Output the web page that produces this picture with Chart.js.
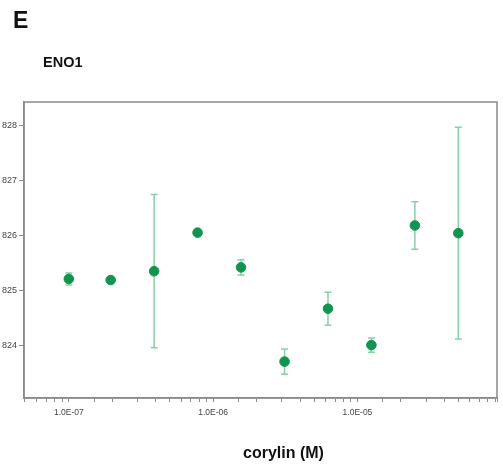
<!DOCTYPE html>
<html>
<head>
<meta charset="utf-8">
<script src="https://cdn.jsdelivr.net/npm/chart.js@4.4.1/dist/chart.umd.min.js"></script>
<style>
  html, body { margin: 0; padding: 0; background: #fff; }
  #wrap { position: relative; width: 503px; height: 468px; overflow: hidden; }
  canvas { position: absolute; left: 0; top: 0; }
  .panel { position: absolute; left: 13px; top: 7px; font: bold 23px "Liberation Sans", Arial, sans-serif; color: #111; }
  .gene { position: absolute; left: 43px; top: 54px; font: bold 14.5px "Liberation Sans", Arial, sans-serif; color: #111; }
  .xtitle { position: absolute; left: 243px; top: 444px; font: bold 16px "Liberation Sans", Arial, sans-serif; color: #111; white-space: nowrap; }
</style>
</head>
<body>
<div id="wrap">
  <canvas id="c" width="503" height="468"></canvas>
  <div class="panel">E</div>
  <div class="gene">ENO1</div>
  <div class="xtitle">corylin (M)</div>
</div>
<script>
// corylin concentrations (M), two-fold dilution series
const concentrations = [1e-7, 1.95e-7, 3.9e-7, 7.8e-7, 1.56e-6, 3.125e-6, 6.25e-6, 1.25e-5, 2.5e-5, 5e-5];
// ENO1 readout (mean) and error (± half range)
const means  = [825.21, 825.19, 825.35, 826.05, 825.42, 823.71, 824.67, 824.01, 826.18, 826.04];
const errors = [0.11, 0.03, 1.39, 0.03, 0.14, 0.23, 0.30, 0.13, 0.43, 1.92];
// labelled y ticks
const yTicks = [824, 825, 826, 827, 828];
const xMajor = [1e-7, 1e-6, 1e-5];

const points = concentrations.map((x, i) => ({ x: x, y: means[i], e: errors[i] }));

const axisGrey = '#8a8a8a';

// error bars with caps, drawn beneath the markers
const errorBars = {
  id: 'errorBars',
  beforeDatasetsDraw(chart) {
    const ctx = chart.ctx;
    const xs = chart.scales.x, ys = chart.scales.y;
    ctx.save();
    ctx.strokeStyle = '#86d0a6';
    ctx.lineWidth = 1.5;
    points.forEach(p => {
      if (p.e <= 0.05) return;
      const px = xs.getPixelForValue(p.x);
      const top = ys.getPixelForValue(p.y + p.e);
      const bot = ys.getPixelForValue(p.y - p.e);
      ctx.beginPath();
      ctx.moveTo(px, top); ctx.lineTo(px, bot);
      ctx.moveTo(px - 3.5, top); ctx.lineTo(px + 3.5, top);
      ctx.moveTo(px - 3.5, bot); ctx.lineTo(px + 3.5, bot);
      ctx.stroke();
    });
    ctx.restore();
  }
};

// closed frame around the plotting area
const frame = {
  id: 'frame',
  afterDraw(chart) {
    const a = chart.chartArea, ctx = chart.ctx;
    ctx.save();
    ctx.strokeStyle = axisGrey;
    ctx.lineWidth = 1.5;
    ctx.strokeRect(a.left, a.top, a.right - a.left, a.bottom - a.top);
    ctx.restore();
  }
};

const isMajor = v => xMajor.some(m => Math.abs(v / m - 1) < 1e-6);

new Chart(document.getElementById('c'), {
  type: 'scatter',
  data: {
    datasets: [{
      data: points,
      backgroundColor: '#11944f',
      borderColor: '#11944f',
      pointRadius: 4.8,
      pointHoverRadius: 4.8
    }]
  },
  options: {
    responsive: false,
    animation: false,
    events: [],
    layout: { padding: { top: 102, right: 2, left: 0, bottom: 0 } },
    plugins: { legend: { display: false }, tooltip: { enabled: false } },
    scales: {
      x: {
        type: 'logarithmic',
        min: 4.89e-8,
        max: 9.27e-5,
        afterFit(scale) { scale.height = 70; },
        border: { display: true, color: axisGrey, width: 1.5 },
        grid: { drawOnChartArea: false, drawTicks: true, tickLength: 4, color: axisGrey, tickColor: axisGrey },
        ticks: {
          autoSkip: false,
          maxRotation: 0,
          padding: 6,
          color: '#444',
          font: { family: '"Liberation Sans", Arial, sans-serif', size: 8.5 },
          callback(v) {
            const hit = xMajor.find(m => Math.abs(v / m - 1) < 1e-6);
            return hit ? hit.toExponential(1).toUpperCase().replace(/E([+-])(\d)$/, 'E$10$2') : '';
          }
        }
      },
      y: {
        min: 823.05,
        max: 828.42,
        afterFit(scale) { scale.width = 24; },
        afterBuildTicks(scale) { scale.ticks = yTicks.map(v => ({ value: v })); },
        border: { display: true, color: axisGrey, width: 1.5 },
        grid: { drawOnChartArea: false, drawTicks: true, tickLength: 5, color: axisGrey, tickColor: axisGrey },
        ticks: {
          padding: 2,
          color: '#444',
          font: { family: '"Liberation Sans", Arial, sans-serif', size: 9 },
          callback(v) { return String(v); }
        }
      }
    }
  },
  plugins: [errorBars, frame]
});
</script>
</body>
</html>
